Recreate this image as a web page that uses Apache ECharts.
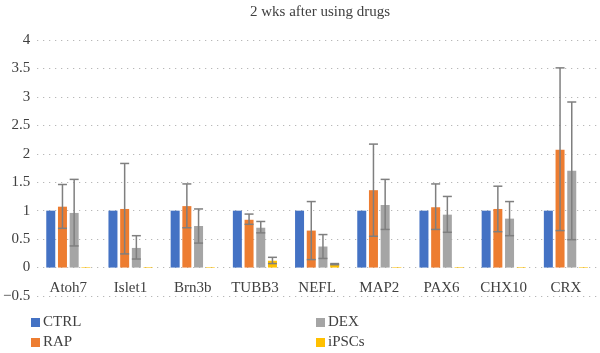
<!DOCTYPE html>
<html>
<head>
<meta charset="utf-8">
<script src="https://cdn.jsdelivr.net/npm/echarts@6/dist/echarts.min.js"></script>
<style>
  html, body { margin: 0; padding: 0; background: #fff; }
  #chart { width: 600px; height: 353px; }
</style>
</head>
<body>
<div id="chart"></div>
<script>
// genes on x axis
var genes = ['Atoh7', 'Islet1', 'Brn3b', 'TUBB3', 'NEFL', 'MAP2', 'PAX6', 'CHX10', 'CRX']
var yTicks = [-0.5, 0, 0.5, 1, 1.5, 2, 2.5, 3, 3.5, 4]

// mean relative expression
var ctrl  = [1, 1, 1, 1, 1, 1, 1, 1, 1]
var rap   = [1.07, 1.03, 1.08, 0.84, 0.65, 1.36, 1.06, 1.03, 2.07]
var dex   = [0.96, 0.345, 0.73, 0.70, 0.37, 1.10, 0.93, 0.86, 1.70]
var ipscs = [0.01, 0.01, 0.01, 0.12, 0.06, 0.01, 0.01, 0.01, 0.01]

// error bar ends (low / high)
var rapLow   = [0.69, 0.24, 0.70, 0.76, 0.14, 0.55, 0.67, 0.63, 0.65]
var rapHigh  = [1.46, 1.83, 1.47, 0.94, 1.16, 2.17, 1.47, 1.43, 3.51]
var dexLow   = [0.38, 0.15, 0.43, 0.61, 0.16, 0.67, 0.62, 0.56, 0.49]
var dexHigh  = [1.55, 0.56, 1.03, 0.81, 0.58, 1.55, 1.25, 1.16, 2.91]
var ipscLow  = [null, null, null, 0.07, 0.05, null, null, null, null]
var ipscHigh = [null, null, null, 0.18, 0.07, null, null, null, null]

var colors = ['#4472C4', '#ED7D31', '#A5A5A5', '#FFC000']
var serif = '"Liberation Serif", "DejaVu Serif", serif'
var BW = 9, GAP = 2.7

var myChart = echarts.init(document.getElementById('chart'))

// offset of bar i (0..3) from the category centre
function barOffset(i) {
    var total = 4 * BW + 3 * GAP
    return -total / 2 + BW / 2 + i * (BW + GAP)
}

function errData(low, high) {
    var d = []
    for (var i = 0; i < genes.length; i++) {
        if (low[i] != null) d.push([i, low[i], high[i]])
    }
    return d
}

function errSeries(idx, low, high) {
    return {
        type: 'custom',
        name: 'err' + idx,
        z: 10,
        silent: true,
        data: errData(low, high),
        renderItem: function (params, api) {
            var lo = api.coord([api.value(0), api.value(1)])
            var hi = api.coord([api.value(0), api.value(2)])
            var x = lo[0] + barOffset(idx)
            var cap = 4.5
            var st = { stroke: '#7F7F7F', lineWidth: 1.5 }
            return {
                type: 'group',
                children: [
                    { type: 'line', shape: { x1: x, y1: lo[1], x2: x, y2: hi[1] }, style: st },
                    { type: 'line', shape: { x1: x - cap, y1: lo[1], x2: x + cap, y2: lo[1] }, style: st },
                    { type: 'line', shape: { x1: x - cap, y1: hi[1], x2: x + cap, y2: hi[1] }, style: st }
                ]
            }
        }
    }
}

function barSeries(name, data, color) {
    return {
        name: name,
        type: 'bar',
        data: data,
        barWidth: BW,
        barGap: '30%',
        itemStyle: { color: color },
        emphasis: { disabled: true }
    }
}

var legendText = { fontFamily: serif, fontSize: 15, lineHeight: 15, color: '#404040', padding: [0, 0, 0, -2] }

var option = {
    animation: false,
    color: colors,
    title: {
        text: '2 wks after using drugs',
        left: 245,
        top: 0,
        textStyle: { fontFamily: serif, fontSize: 15, fontWeight: 'normal', color: '#404040' }
    },
    legend: [
        {
            data: ['CTRL', 'RAP'],
            orient: 'vertical',
            left: 31, top: 315, padding: 0,
            icon: 'rect', itemWidth: 9, itemHeight: 9, itemGap: 5,
            textStyle: legendText
        },
        {
            data: ['DEX', 'iPSCs'],
            orient: 'vertical',
            left: 316, top: 315, padding: 0,
            icon: 'rect', itemWidth: 9, itemHeight: 9, itemGap: 5,
            textStyle: legendText
        }
    ],
    grid: { left: 34, right: 3, top: 40, bottom: 57 },
    xAxis: {
        type: 'category',
        data: genes,
        axisLine: { show: false },
        axisTick: { show: false },
        axisLabel: { fontFamily: serif, fontSize: 15, color: '#404040', margin: -15, verticalAlign: 'top' }
    },
    yAxis: {
        type: 'value',
        min: -0.5,
        max: 4,
        interval: 0.5,
        axisLine: { show: false },
        axisTick: { show: false },
        axisLabel: {
            fontFamily: serif, fontSize: 15, color: '#404040', margin: 7,
            formatter: function (v) {
                return yTicks.indexOf(v) >= 0 ? String(v).replace('-', '\u2212') : ''
            }
        },
        splitLine: { lineStyle: { color: '#A6A6A6', type: [1, 5], width: 1 } }
    },
    series: [
        barSeries('CTRL', ctrl, colors[0]),
        barSeries('RAP', rap, colors[1]),
        barSeries('DEX', dex, colors[2]),
        barSeries('iPSCs', ipscs, colors[3]),
        errSeries(1, rapLow, rapHigh),
        errSeries(2, dexLow, dexHigh),
        errSeries(3, ipscLow, ipscHigh)
    ]
}

myChart.setOption(option)
</script>
</body>
</html>
